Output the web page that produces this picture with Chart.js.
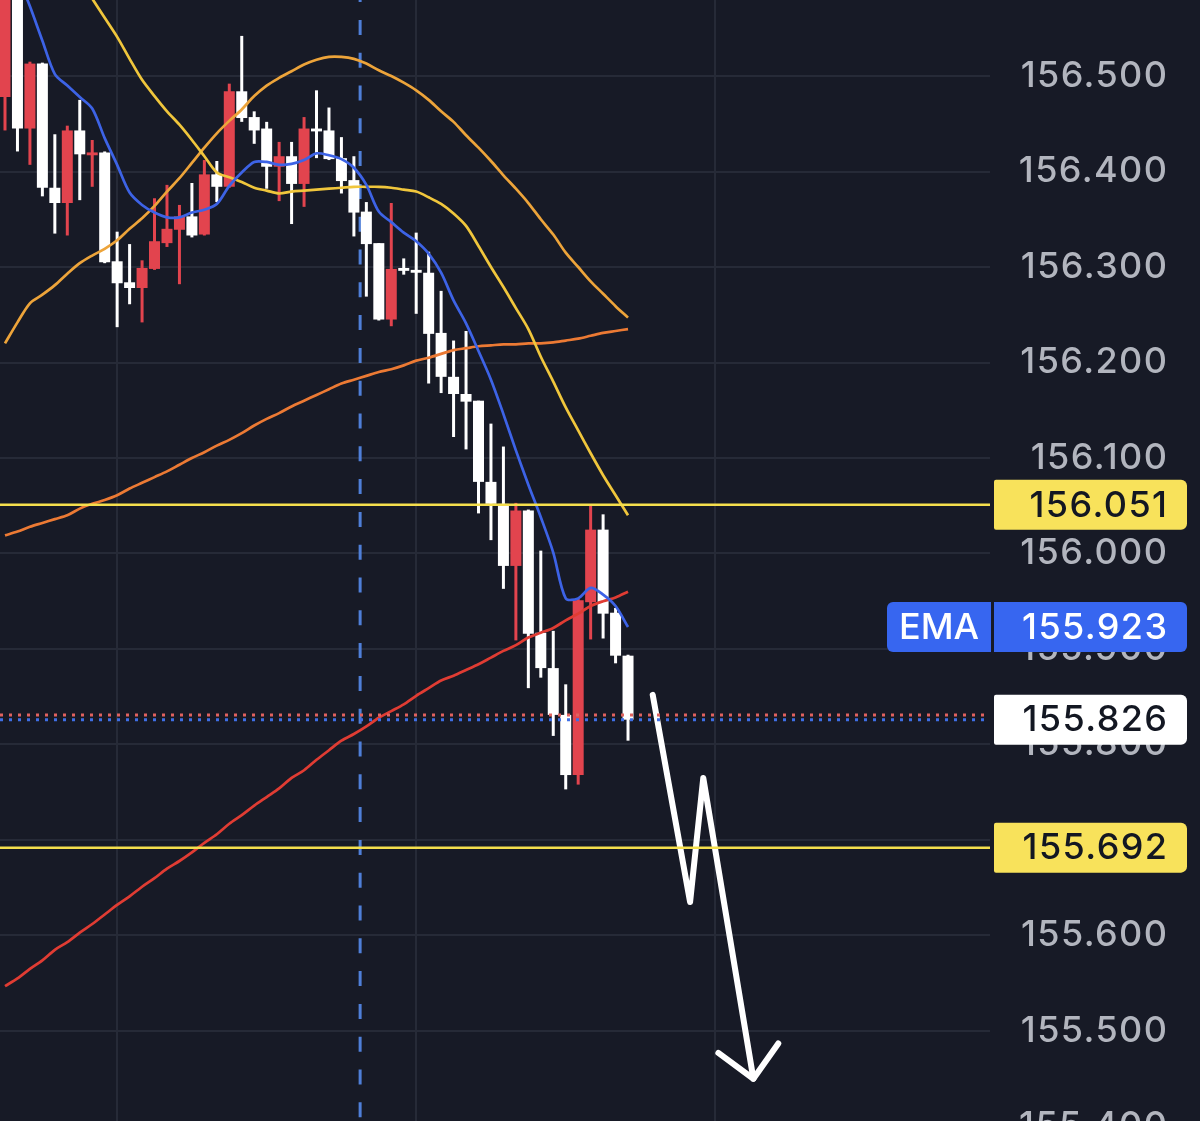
<!DOCTYPE html>
<html lang="en">
<head>
  <meta charset="UTF-8" />
  <title>USDJPY 1m</title>
  <script src="https://cdn.jsdelivr.net/npm/chart.js"></script>
  <style>
    html, body { margin: 0; padding: 0; background: #171a26; overflow: hidden; }
    .wrap { position: relative; width: 1200px; height: 1160px; }
  </style>
</head>
<body>
  <div class="wrap"><canvas id="chart"></canvas></div>

  <script>
    // candles (red = up, white = down), one per bar index
    const opens  = [156.478,156.616,156.445,156.513,156.383,156.367,156.443,156.417,156.420,156.306,
                    156.284,156.278,156.298,156.325,156.339,156.353,156.334,156.397,156.384,156.484,
                    156.457,156.445,156.405,156.416,156.387,156.445,156.443,156.414,156.391,156.358,
                    156.325,156.245,156.299,156.297,156.294,156.231,156.185,156.167,156.160,156.075,
                    156.052,155.987,156.045,155.917,155.880,155.831,155.768,155.949,156.025,155.938,155.893];
    const highs  = [156.627,156.622,156.515,156.514,156.439,156.448,156.475,156.433,156.421,156.337,
                    156.324,156.307,156.372,156.386,156.365,156.388,156.412,156.411,156.492,156.542,
                    156.463,156.452,156.431,156.431,156.457,156.485,156.467,156.436,156.416,156.368,
                    156.325,156.367,156.309,156.336,156.316,156.275,156.223,156.233,156.160,156.136,
                    156.112,156.053,156.046,156.003,155.919,155.863,155.953,156.051,156.041,155.943,155.894];
    const lows   = [156.443,156.421,156.407,156.374,156.335,156.333,156.370,156.384,156.304,156.237,
                    156.261,156.242,156.297,156.321,156.282,156.331,156.333,156.368,156.383,156.452,
                    156.429,156.382,156.369,156.345,156.363,156.414,156.412,156.377,156.332,156.269,
                    156.244,156.238,156.292,156.251,156.178,156.168,156.122,156.109,156.042,156.014,
                    155.963,155.909,155.859,155.870,155.809,155.753,155.758,155.910,155.911,155.885,155.804];
    const closes = [156.616,156.445,156.513,156.383,156.367,156.443,156.418,156.420,156.305,156.283,
                    156.278,156.299,156.327,156.340,156.353,156.333,156.397,156.384,156.484,156.456,
                    156.443,156.405,156.416,156.387,156.445,156.442,156.413,156.390,156.357,156.324,
                    156.245,156.298,156.296,156.294,156.230,156.185,156.167,156.159,156.075,156.052,
                    155.987,156.045,155.916,155.880,155.831,155.768,155.951,156.025,155.937,155.893,155.826];

    // indicator lines
    const emaValues = [156.642,156.606,156.573,156.537,156.502,156.490,156.478,156.466,156.435,156.407,
                       156.378,156.365,156.357,156.352,156.352,156.357,156.360,156.366,156.385,156.399,
                       156.410,156.410,156.407,156.408,156.412,156.419,156.417,156.413,156.404,156.386,
                       156.358,156.347,156.336,156.327,156.314,156.294,156.265,156.241,156.212,156.182,
                       156.146,156.108,156.072,156.038,156.001,155.953,155.953,155.964,155.957,155.945,155.923];
    const maYellow  = [156.737,156.714,156.691,156.668,156.645,156.621,156.601,156.581,156.561,156.541,
                       156.518,156.496,156.479,156.463,156.449,156.433,156.416,156.399,156.394,156.389,
                       156.383,156.380,156.377,156.379,156.380,156.381,156.382,156.383,156.384,156.384,
                       156.384,156.383,156.381,156.379,156.373,156.366,156.356,156.343,156.322,156.300,
                       156.279,156.257,156.235,156.206,156.180,156.153,156.129,156.105,156.082,156.061,156.040];
    const maAmber   = [156.220,156.242,156.262,156.271,156.281,156.293,156.304,156.312,156.319,156.328,
                       156.340,156.351,156.364,156.379,156.393,156.409,156.425,156.440,156.453,156.465,
                       156.479,156.490,156.498,156.505,156.512,156.517,156.520,156.520,156.518,156.513,
                       156.506,156.500,156.493,156.485,156.475,156.463,156.452,156.438,156.425,156.411,
                       156.396,156.382,156.367,156.350,156.334,156.315,156.300,156.285,156.272,156.259,156.247];
    const maOrange  = [156.019,156.023,156.028,156.032,156.036,156.040,156.047,156.052,156.056,156.061,
                       156.068,156.074,156.080,156.086,156.093,156.100,156.106,156.113,156.119,156.126,
                       156.134,156.141,156.147,156.154,156.160,156.166,156.172,156.178,156.182,156.186,
                       156.190,156.193,156.197,156.202,156.205,156.209,156.213,156.215,156.217,156.218,
                       156.219,156.219,156.220,156.220,156.221,156.223,156.225,156.228,156.231,156.233,156.235];
    const maRed     = [155.547,155.555,155.565,155.574,155.585,155.593,155.603,155.612,155.622,155.632,
                       155.641,155.651,155.660,155.670,155.678,155.687,155.697,155.706,155.717,155.726,
                       155.736,155.745,155.754,155.765,155.773,155.784,155.794,155.804,155.811,155.819,
                       155.828,155.835,155.842,155.851,155.859,155.867,155.872,155.878,155.884,155.891,
                       155.898,155.904,155.912,155.917,155.922,155.930,155.937,155.945,155.950,155.954,155.960];

    // horizontal levels, price lines, session marker, vertical grid
    const levels = [156.051, 155.692];
    const bidLine = 155.831;
    const lastPrice = closes[closes.length - 1];
    const lastEma = emaValues[emaValues.length - 1];
    const markerIndex = 28.5;
    const gridIndexes = [9, 33, 57];
    const tickStep = 0.1;

    // hand drawn arrow, [bar index, price]
    const arrowPath = [[51.98, 155.852], [54.98, 155.635], [56.04, 155.765], [60.06, 155.450]];
    const arrowHead = [[57.25, 155.477], [60.06, 155.450], [62.06, 155.487]];

    const GRID = '#262a37';
    const UP = '#e2444e';
    const DOWN = '#ffffff';
    const FONT = 'Inter, "Noto Sans", sans-serif';
    const SPACING = 1.4;

    const idx = closes.map((_, i) => i);
    const candleColors = idx.map(i => closes[i] > opens[i] ? UP : DOWN);
    const series = arr => arr.map((v, i) => ({ x: i, y: v }));
    const pts = arr => arr.map(p => ({ x: p[0], y: p[1] }));

    function lineSet(data, color, order) {
      return {
        type: 'line', data: data, borderColor: color, borderWidth: 2.7,
        pointRadius: 0, tension: 0.3, order: order
      };
    }

    const overlay = {
      id: 'overlay',
      beforeDraw(chart) {
        chart.ctx.letterSpacing = SPACING + 'px';
      },
      beforeDatasetsDraw(chart) {
        const { ctx, chartArea: a, scales: { x } } = chart;
        const px = x.getPixelForValue(markerIndex);
        ctx.save();
        ctx.strokeStyle = '#4f7fd8';
        ctx.lineWidth = 3;
        ctx.setLineDash([15, 17.8]);
        ctx.lineDashOffset = 12.9;
        ctx.beginPath();
        ctx.moveTo(px, a.top);
        ctx.lineTo(px, a.bottom);
        ctx.stroke();
        ctx.restore();
      },
      afterDatasetsDraw(chart) {
        const { ctx, chartArea: a, scales: { y } } = chart;
        ctx.save();
        ctx.lineWidth = 2.5;
        ctx.strokeStyle = '#f5df4d';
        levels.forEach(v => {
          const py = y.getPixelForValue(v);
          ctx.beginPath(); ctx.moveTo(a.left, py); ctx.lineTo(a.right, py); ctx.stroke();
        });
        ctx.lineWidth = 3;
        ctx.setLineDash([3, 6]);
        [[bidLine, '#e0625f'], [lastPrice, '#3f6fe6']].forEach(([v, c]) => {
          const py = y.getPixelForValue(v);
          ctx.strokeStyle = c;
          ctx.beginPath(); ctx.moveTo(a.left, py); ctx.lineTo(a.right, py); ctx.stroke();
        });
        ctx.restore();
      },
      afterDraw(chart) {
        const { ctx, scales: { y } } = chart;
        ctx.save();
        ctx.font = '500 36px ' + FONT;
        ctx.textBaseline = 'middle';
        const tag = (x, w, v, fill, text, color, radii, align) => {
          const py = y.getPixelForValue(v);
          ctx.fillStyle = fill;
          ctx.beginPath();
          ctx.roundRect(x, py - 25, w, 50, radii);
          ctx.fill();
          ctx.fillStyle = color;
          ctx.textAlign = align;
          if (align === 'right') {
            ctx.letterSpacing = SPACING + 'px';
            ctx.fillText(text, x + w - 20 + SPACING, py + 1);
          } else {
            ctx.letterSpacing = '0px';
            ctx.fillText(text, x + w / 2, py + 1);
          }
        };
        levels.forEach(v => tag(994, 193, v, '#f8e25b', v.toFixed(3), '#131722', [2, 6, 6, 2], 'right'));
        tag(887, 104, lastEma, '#3766f0', 'EMA', '#ffffff', [6, 0, 0, 6], 'center');
        tag(994, 193, lastEma, '#3766f0', lastEma.toFixed(3), '#ffffff', [0, 6, 6, 0], 'right');
        tag(994, 193, lastPrice, '#ffffff', lastPrice.toFixed(3), '#131722', [2, 6, 6, 2], 'right');
        ctx.restore();
      }
    };

    new Chart(document.getElementById('chart'), {
      type: 'bar',
      data: {
        datasets: [
          { type: 'line', data: pts(arrowPath), borderColor: '#ffffff', borderWidth: 6,
            borderCapStyle: 'round', borderJoinStyle: 'round', pointRadius: 0, tension: 0, order: 0 },
          { type: 'line', data: pts(arrowHead), borderColor: '#ffffff', borderWidth: 6,
            borderCapStyle: 'round', borderJoinStyle: 'round', pointRadius: 0, tension: 0, order: 0 },
          lineSet(series(emaValues), '#3d63e6', 1),
          lineSet(series(maYellow), '#f0c63c', 2),
          lineSet(series(maAmber), '#eda43a', 3),
          lineSet(series(maOrange), '#ec7a34', 4),
          lineSet(series(maRed), '#e03c33', 5),
          { data: idx.map(i => ({ x: i, y: [opens[i], closes[i]] })), backgroundColor: candleColors,
            barThickness: 11, minBarLength: 2, grouped: false, inflateAmount: 0, order: 6 },
          { data: idx.map(i => ({ x: i, y: [lows[i], highs[i]] })), backgroundColor: candleColors,
            barThickness: 3, grouped: false, inflateAmount: 0, order: 7 }
        ]
      },
      options: {
        responsive: true,
        maintainAspectRatio: false,
        animation: false,
        layout: { padding: { left: 0, top: 0, bottom: 0, right: 31.6 } },
        plugins: { legend: { display: false }, tooltip: { enabled: false } },
        scales: {
          x: {
            type: 'linear', min: -0.4013, max: 79.05, offset: false,
            grid: { color: GRID, lineWidth: 2, drawTicks: false, offset: false },
            border: { display: false },
            ticks: { display: false },
            afterBuildTicks: axis => { axis.ticks = gridIndexes.map(v => ({ value: v })); }
          },
          y: {
            position: 'right', min: 155.3649, max: 156.5796,
            grid: { color: GRID, lineWidth: 2, drawTicks: false },
            border: { display: false },
            ticks: {
              stepSize: tickStep, includeBounds: false, autoSkip: false, maxTicksLimit: 40,
              color: '#b2b5be', font: { family: FONT, size: 36, weight: '500' },
              padding: 0, crossAlign: 'far',
              callback: v => v.toFixed(3)
            },
            afterFit: s => { s.width = 178.4; s.paddingTop = 0; s.paddingBottom = 0; }
          }
        }
      },
      plugins: [overlay]
    });
  </script>
</body>
</html>
